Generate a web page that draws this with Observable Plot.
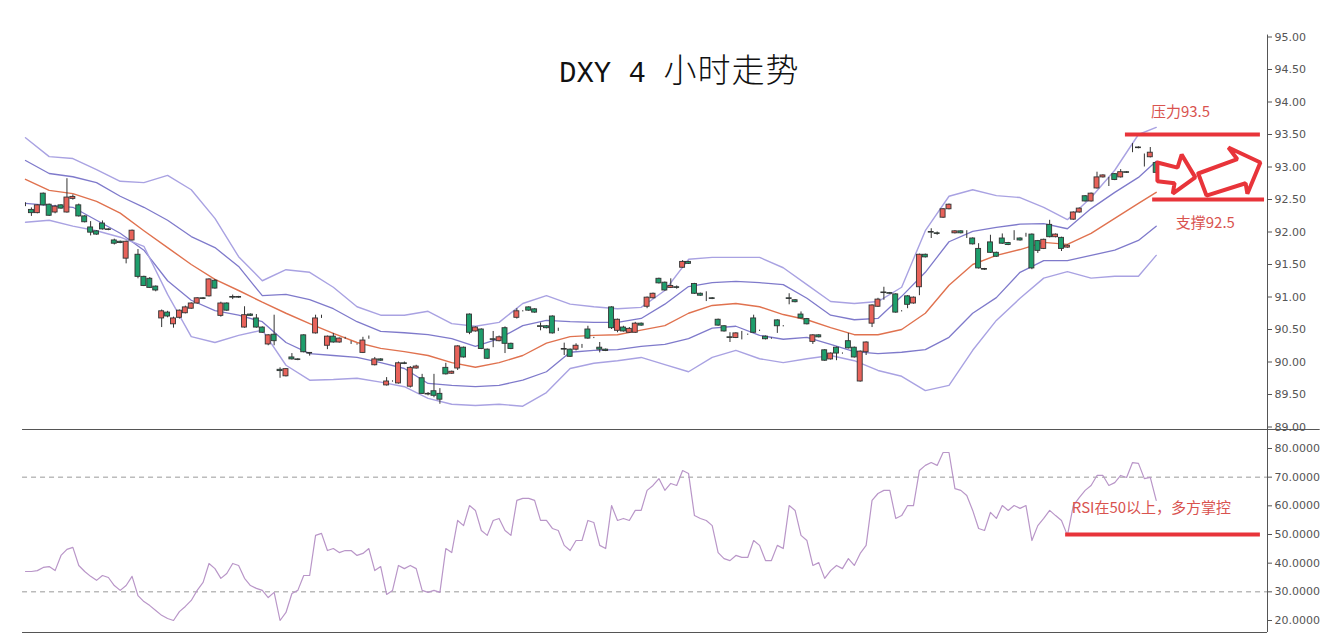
<!DOCTYPE html>
<html><head><meta charset="utf-8">
<script src="https://cdn.jsdelivr.net/npm/d3@7"></script>
<script src="https://cdn.jsdelivr.net/npm/@observablehq/plot@0.6"></script>
<style>
html,body{margin:0;padding:0;background:#fff;}
#wrap{position:relative;width:1333px;height:643px;background:#fff;overflow:hidden;}
#top{position:absolute;left:0;top:0;}
#bot{position:absolute;left:0;top:429px;}
#title{position:absolute;left:559px;top:48px;line-height:40px;color:#111;white-space:nowrap;}
#title .lat{font-family:"Liberation Mono",monospace;font-size:29px;}
#title .cjk{font-family:"Noto Sans CJK SC",sans-serif;font-size:33px;font-weight:300;letter-spacing:1px;}
</style></head>
<body><div id="wrap"><div id="top"></div><div id="bot"></div><div id="title"><span class="lat">DXY 4 </span><span class="cjk">小时走势</span></div></div>
<script>
// ---- candles (4h bars, index 1..192) ----
const openP = [92.42,92.34,92.29,92.59,92.42,92.30,92.41,92.30,92.51,92.41,
92.24,92.07,92.01,92.13,92.04,91.87,91.85,91.59,91.87,91.65,
91.31,91.28,91.16,90.67,90.76,90.58,90.68,90.75,90.82,90.90,
90.98,91.01,91.25,90.71,90.90,91.00,91.00,90.53,90.73,90.67,
90.53,90.27,90.42,89.88,89.78,90.07,90.04,90.41,90.14,90.44,
90.68,90.25,90.39,90.30,90.36,90.28,90.27,90.14,90.36,89.95,
90.04,89.64,89.70,89.67,89.98,89.62,89.90,89.75,89.51,89.55,
89.51,89.91,89.82,89.90,90.22,90.73,90.47,90.50,90.19,90.35,
90.32,90.52,90.28,90.68,90.78,90.84,90.81,90.55,90.55,90.70,
90.48,90.20,90.19,90.19,90.24,90.50,90.37,90.22,90.19,90.84,
90.48,90.53,90.45,90.45,90.59,90.85,90.98,91.28,91.22,91.14,
91.15,91.45,91.54,91.20,91.05,91.02,90.98,90.65,90.55,90.38,
90.37,90.39,90.42,90.67,90.48,90.39,90.36,90.64,90.55,90.98,
90.95,90.73,90.66,90.31,90.41,90.18,90.04,90.22,90.13,90.32,
90.22,89.70,90.15,90.59,90.85,91.07,91.06,91.04,90.78,91.01,
90.90,91.15,91.65,92.00,91.98,92.22,92.35,91.98,92.01,91.93,
91.90,91.74,91.43,91.84,91.68,91.90,91.83,91.91,91.90,91.95,
91.96,91.86,91.74,92.11,91.92,91.91,91.76,92.19,92.30,92.55,
92.47,92.67,92.84,92.79,92.89,92.84,92.92,93.30,93.30,93.17,
93.15,93.06];
const highP = [92.45,92.37,92.42,92.60,92.43,92.41,92.42,92.82,92.57,92.43,
92.25,92.16,92.02,92.17,92.05,91.89,91.86,91.86,92.03,91.73,
91.32,91.30,91.17,90.80,90.78,90.69,90.80,90.86,90.91,90.99,
90.99,91.28,91.27,90.92,90.91,91.03,91.01,90.85,90.74,90.73,
90.54,90.42,90.72,89.91,89.90,90.13,90.05,90.42,90.14,90.72,
90.72,90.40,90.44,90.37,90.38,90.32,90.28,90.38,90.40,90.07,
90.05,89.76,89.71,90.00,90.00,89.93,89.95,89.81,89.53,89.81,
89.59,89.98,89.86,90.25,90.23,90.74,90.54,90.51,90.20,90.47,
90.40,90.54,90.29,90.82,90.79,90.85,90.82,90.60,90.56,90.71,
90.52,90.29,90.20,90.28,90.27,90.55,90.38,90.30,90.20,90.85,
90.66,90.55,90.53,90.61,90.60,91.00,91.06,91.29,91.23,91.28,
91.17,91.56,91.55,91.21,91.06,91.08,90.99,90.66,90.56,90.45,
90.45,90.47,90.43,90.72,90.49,90.40,90.37,90.65,90.56,91.05,
90.96,90.77,90.67,90.42,90.42,90.19,90.14,90.23,90.14,90.44,
90.23,90.17,90.31,90.88,90.98,91.15,91.07,91.05,90.79,91.02,
91.00,91.66,91.66,92.05,92.00,92.36,92.43,92.02,92.02,92.02,
91.91,91.82,91.44,91.95,91.69,91.97,91.84,92.02,91.91,91.98,
91.97,91.87,91.89,92.18,91.97,91.92,91.80,92.31,92.37,92.56,
92.60,92.92,92.88,92.84,92.90,92.96,92.93,93.36,93.31,93.20,
93.30,93.08];
const lowP = [92.39,92.24,92.28,92.40,92.24,92.28,92.35,92.29,92.49,92.23,
92.14,91.94,91.95,92.03,92.02,91.80,91.82,91.51,91.86,91.28,
91.16,91.13,91.08,90.53,90.68,90.52,90.66,90.74,90.81,90.89,
90.96,91.00,91.12,90.69,90.78,90.96,90.98,90.52,90.70,90.52,
90.44,90.25,90.25,89.75,89.77,90.03,90.02,90.14,90.09,90.43,
90.67,90.19,90.29,90.29,90.35,90.27,90.26,90.13,90.35,89.94,
90.01,89.63,89.69,89.66,89.96,89.60,89.89,89.50,89.48,89.45,
89.35,89.80,89.81,89.87,90.06,90.42,90.46,90.19,90.04,90.22,
90.31,90.13,90.19,90.66,90.77,90.78,90.75,90.48,90.51,90.43,
90.47,90.10,90.07,90.17,90.21,90.35,90.36,90.14,90.16,90.50,
90.45,90.46,90.44,90.44,90.55,90.82,90.97,91.20,91.09,91.13,
91.12,91.44,91.50,91.04,91.01,90.93,90.96,90.55,90.46,90.30,
90.36,90.34,90.41,90.44,90.47,90.34,90.35,90.44,90.54,90.88,
90.91,90.66,90.57,90.27,90.37,90.01,90.03,90.02,90.12,90.20,
90.06,89.69,90.10,90.53,90.84,90.95,91.04,90.75,90.77,90.82,
90.89,91.02,91.60,91.90,91.95,92.21,92.34,91.97,91.97,91.90,
91.80,91.43,91.41,91.67,91.61,91.81,91.79,91.87,91.86,91.92,
91.42,91.67,91.73,91.91,91.91,91.70,91.75,92.18,92.29,92.46,
92.46,92.66,92.83,92.70,92.79,92.83,92.90,93.22,93.28,93.00,
93.14,92.90];
const closeP = [92.42,92.29,92.41,92.41,92.25,92.39,92.36,92.53,92.54,92.24,
92.15,91.99,91.96,92.04,92.03,91.82,91.83,91.85,92.02,91.31,
91.17,91.14,91.10,90.78,90.70,90.67,90.79,90.84,90.90,90.98,
90.97,91.27,91.13,90.90,90.79,90.99,90.99,90.72,90.71,90.53,
90.45,90.41,90.32,89.86,89.89,90.04,90.03,90.15,90.13,90.67,
90.68,90.39,90.30,90.36,90.36,90.28,90.27,90.33,90.36,90.04,
90.02,89.70,89.70,89.98,89.97,89.91,89.93,89.51,89.50,89.48,
89.42,89.81,89.85,90.24,90.07,90.45,90.53,90.20,90.05,90.34,
90.38,90.28,90.20,90.78,90.78,90.79,90.76,90.54,90.52,90.44,
90.48,90.19,90.08,90.25,90.24,90.36,90.37,90.19,90.17,90.52,
90.65,90.47,90.51,90.59,90.56,90.99,91.05,91.21,91.10,91.17,
91.14,91.54,91.51,91.05,91.02,91.02,90.97,90.56,90.47,90.37,
90.44,90.39,90.42,90.45,90.48,90.35,90.36,90.55,90.55,90.97,
90.92,90.67,90.58,90.41,90.38,90.02,90.13,90.13,90.13,90.21,
90.07,90.16,90.30,90.87,90.96,91.06,91.05,90.76,90.78,90.88,
90.99,91.65,91.61,91.99,91.97,92.35,92.42,92.01,91.98,91.93,
91.81,91.44,91.42,91.68,91.62,91.82,91.80,91.91,91.87,91.95,
91.44,91.71,91.88,91.92,91.96,91.74,91.79,92.30,92.36,92.47,
92.59,92.84,92.87,92.79,92.80,92.92,92.91,93.30,93.29,93.17,
93.22,92.91];

// ---- Bollinger band lines, read at every 4th bar ----
const bandIdx = [1,5,9,13,17,21,25,29,33,37,41,45,49,53,57,61,65,69,73,77,81,85,89,93,97,101,105,109,113,117,121,125,129,133,137,141,145,149,153,157,161,165,169,173,177,181,185,189,192];
const bandUpper2 = [93.45,93.16,93.13,92.96,92.78,92.76,92.87,92.65,92.21,91.62,91.25,91.42,91.38,91.15,90.85,90.72,90.72,90.78,90.59,90.55,90.61,90.90,91.02,90.89,90.85,90.82,90.84,91.10,91.58,91.61,91.61,91.61,91.45,91.19,90.93,90.90,90.93,91.15,92.02,92.55,92.65,92.56,92.53,92.38,92.19,92.53,92.95,93.50,93.61];
const bandUpper1 = [93.10,92.90,92.85,92.76,92.55,92.38,92.18,91.93,91.76,91.47,91.02,91.04,90.96,90.82,90.62,90.47,90.45,90.42,90.36,90.24,90.36,90.56,90.64,90.62,90.61,90.61,90.67,90.89,91.16,91.22,91.24,91.22,91.19,90.98,90.72,90.65,90.67,91.01,91.38,91.85,92.01,92.07,92.12,92.13,92.05,92.36,92.61,92.84,93.09];
const bandMid = [92.81,92.64,92.59,92.47,92.29,92.02,91.76,91.50,91.27,91.10,90.92,90.75,90.59,90.44,90.30,90.21,90.16,90.10,89.99,89.92,89.99,90.10,90.29,90.39,90.41,90.42,90.49,90.56,90.75,90.87,90.90,90.85,90.73,90.65,90.53,90.42,90.42,90.50,90.75,91.18,91.50,91.64,91.73,91.84,91.81,91.98,92.21,92.44,92.61];
const bandLower1 = [92.44,92.41,92.38,92.18,91.98,91.72,91.25,90.95,90.79,90.72,90.62,90.30,90.13,90.10,90.07,89.99,89.90,89.67,89.64,89.62,89.64,89.72,89.85,90.15,90.18,90.19,90.24,90.27,90.36,90.52,90.55,90.41,90.35,90.38,90.27,90.16,90.13,90.15,90.19,90.38,90.75,90.99,91.38,91.56,91.56,91.64,91.72,91.87,92.09];
const bandLower2 = [92.15,92.18,92.09,92.02,91.92,91.78,91.04,90.39,90.30,90.41,90.49,89.95,89.72,89.73,89.75,89.69,89.62,89.44,89.35,89.33,89.35,89.32,89.53,89.90,89.98,90.02,90.07,89.96,89.85,90.07,90.18,90.05,89.99,90.05,90.10,90.02,89.87,89.78,89.56,89.64,90.18,90.64,90.98,91.29,91.39,91.29,91.32,91.32,91.64];

// ---- RSI ----
const rsi = [37.1,37.1,37.4,38.5,38.8,37.4,42.7,44.8,45.5,39.2,
37.1,35.4,34.0,35.7,35.0,32.2,30.5,32.2,35.4,28.7,
26.6,25.2,23.5,21.8,20.7,20.0,23.1,24.9,27.0,30.5,
33.3,39.9,38.1,34.7,36.4,39.9,39.2,34.7,32.2,31.2,
30.5,28.0,29.8,20.0,22.8,29.4,30.5,35.7,35.7,49.7,
50.4,44.4,45.1,43.7,44.4,44.4,42.7,43.4,45.1,37.4,
38.8,29.1,30.5,39.2,38.1,39.2,38.1,30.5,29.8,30.5,
29.8,45.1,43.7,54.9,53.1,60.1,58.4,51.4,49.7,54.9,
55.6,51.4,49.7,61.9,62.6,62.6,61.9,54.9,54.9,52.1,
51.4,46.2,44.4,47.9,47.9,54.9,54.2,46.2,45.1,60.1,
54.9,55.6,54.9,58.4,58.4,65.4,67.1,69.5,65.4,67.8,
67.1,72.3,71.3,56.6,55.6,54.9,53.1,43.7,41.6,40.9,
42.7,42.0,42.0,47.9,46.2,40.9,40.9,46.2,45.1,60.1,
58.4,49.7,47.9,39.2,40.2,34.7,37.4,39.2,38.1,41.6,
39.2,43.4,46.2,61.9,64.3,65.4,65.4,55.6,56.6,60.1,
60.1,72.3,74.1,75.1,74.1,78.6,78.6,66.0,65.4,63.6,
58.4,52.1,51.4,57.7,55.6,60.1,58.4,60.1,59.1,60.1,
47.9,53.1,55.6,58.4,56.6,54.9,49.7,60.1,62.9,65.4,
67.1,70.6,70.6,67.1,68.1,70.6,69.9,75.1,74.8,69.5,
69.9,61.9];

// ---- axis ticks ----
const priceTicks = [89,89.5,90,90.5,91,91.5,92,92.5,93,93.5,94,94.5,95];
const rsiTicks = [20,30,40,50,60,70,80];
const rsiGuides = [30,70];

// ---- annotations ----
const resistance = 93.5, support = 92.5, rsiLevel = 50;
const arrow1 = [[192.2,93.07],[195.6,92.99],[196.3,93.19],[198.6,92.84],[194.8,92.59],[195.1,92.75],[192.2,92.78],[192.2,93.07]];
const arrow2 = [[199.1,92.90],[205.7,93.12],[204.2,93.30],[209.6,93.07],[207.4,92.59],[207.1,92.75],[200.5,92.56],[199.1,92.90]];

// ---- build ----
const N = openP.length;
const candles = d3.range(N).map(k => ({i: k+1, o: openP[k], h: highP[k], l: lowP[k], c: closeP[k]}));
const bands = bandIdx.map((i,k) => ({i, u2: bandUpper2[k], u1: bandUpper1[k], m: bandMid[k], l1: bandLower1[k], l2: bandLower2[k]}));
const rsiData = rsi.map((v,k) => ({i: k+1, v}));
const XMAX = 210.8, XL = 0.5, XR = 219.7;
const RED = "#e8343a", TXT = "#d9534f";
const fam = "'Noto Sans CJK SC','Noto Sans',sans-serif";
const colorOf = d => d.c > d.o ? "#e8625a" : (d.c < d.o ? "#1e9e6c" : "#333");

const priceChart = Plot.plot({
  width: 1333, height: 432,
  marginLeft: 25, marginRight: 66, marginTop: 36.5, marginBottom: 5.5,
  x: {type: "linear", domain: [1, XMAX], axis: null},
  y: {domain: [89, 95], axis: "right", ticks: priceTicks, tickFormat: d3.format(".2f"), tickSize: 4, tickPadding: 3, label: null},
  style: {fontSize: "11px", fontFamily: "'DejaVu Sans',sans-serif", color: "#555", background: "transparent", overflow: "visible"},
  marks: [
    Plot.ruleX([XMAX], {y1: 95.03, y2: 88.9, stroke: "#555"}),
    Plot.ruleY([89], {x1: XL, x2: XR, dy: 2.5, stroke: "#555"}),
    Plot.line(bands, {x: "i", y: "u2", stroke: "#a9a2e2", strokeWidth: 1.4}),
    Plot.line(bands, {x: "i", y: "u1", stroke: "#7f7acb", strokeWidth: 1.3}),
    Plot.line(bands, {x: "i", y: "m", stroke: "#e0724f", strokeWidth: 1.4}),
    Plot.line(bands, {x: "i", y: "l1", stroke: "#7f7acb", strokeWidth: 1.3}),
    Plot.line(bands, {x: "i", y: "l2", stroke: "#a9a2e2", strokeWidth: 1.4}),
    Plot.ruleX(candles, {x: "i", y1: "l", y2: "h", stroke: "#333", strokeWidth: 1}),
    Plot.rect(candles, {x1: d => d.i - 0.42, x2: d => d.i + 0.42, y1: "o", y2: "c", fill: colorOf, stroke: "#333", strokeWidth: 0.9}),
    Plot.ruleY([resistance], {x1: 186.8, x2: 209.6, stroke: RED, strokeWidth: 4}),
    Plot.ruleY([support], {x1: 191.4, x2: 210.3, stroke: RED, strokeWidth: 4}),
    Plot.line(arrow1, {x: d => d[0], y: d => d[1], stroke: RED, strokeWidth: 4, strokeLinejoin: "miter"}),
    Plot.line(arrow2, {x: d => d[0], y: d => d[1], stroke: RED, strokeWidth: 4, strokeLinejoin: "miter"}),
    Plot.text([{i: 196.1, p: 93.85, t: "压力93.5"}], {x: "i", y: "p", text: "t", fill: TXT, fontSize: 15, fontFamily: fam}),
    Plot.text([{i: 200.3, p: 92.13, t: "支撑92.5"}], {x: "i", y: "p", text: "t", fill: TXT, fontSize: 15, fontFamily: fam})
  ]
});
document.getElementById("top").appendChild(priceChart);

const rsiChart = Plot.plot({
  width: 1333, height: 214,
  marginLeft: 25, marginRight: 66, marginTop: 19, marginBottom: 23,
  x: {type: "linear", domain: [1, XMAX], axis: null},
  y: {domain: [20, 80], axis: "right", ticks: rsiTicks, tickFormat: d3.format(".4f"), tickSize: 4, tickPadding: 3, label: null},
  style: {fontSize: "11px", fontFamily: "'DejaVu Sans',sans-serif", color: "#555", background: "transparent", overflow: "visible"},
  marks: [
    Plot.ruleX([XMAX], {y1: 87, y2: 15.8, stroke: "#555"}),
    Plot.ruleY([20], {x1: XL, x2: XMAX, dy: 12, stroke: "#555"}),
    Plot.ruleY(rsiGuides, {x1: XL, x2: XMAX, stroke: "#999", strokeDasharray: "5,4"}),
    Plot.line(rsiData, {x: "i", y: "v", stroke: "#b996c8", strokeWidth: 1.2}),
    Plot.ruleY([rsiLevel], {x1: 176.7, x2: 209.6, stroke: RED, strokeWidth: 4}),
    Plot.text([{i: 191.2, v: 59.1, t: "RSI在50以上，多方掌控"}], {x: "i", y: "v", text: "t", fill: TXT, fontSize: 15, fontFamily: fam})
  ]
});
document.getElementById("bot").appendChild(rsiChart);
</script>
</body></html>
